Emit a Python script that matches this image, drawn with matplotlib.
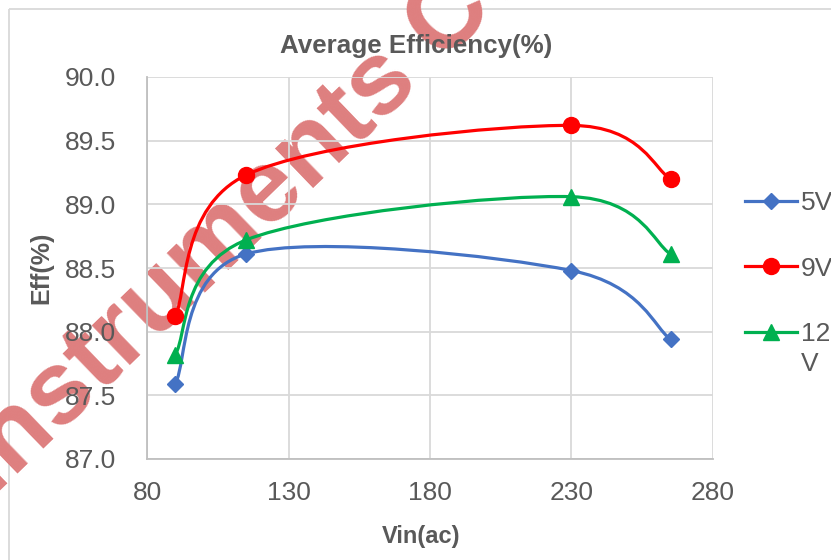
import matplotlib
matplotlib.use("Agg")
import matplotlib.pyplot as plt
import numpy as np
from matplotlib.path import Path
from matplotlib.patches import PathPatch, Rectangle
from matplotlib.lines import Line2D

plt.rcParams['font.family'] = ['Liberation Sans', 'DejaVu Sans']

# ---- data ----
vin = [90, 115, 230, 265]
eff_5v = [87.59, 88.61, 88.48, 87.94]
eff_9v = [88.12, 89.23, 89.62, 89.20]
eff_12v = [87.82, 88.72, 89.06, 88.61]
series_labels = ['5V', '9V', '12\nV']
x_ticks = [80, 130, 180, 230, 280]
y_ticks = [87.0, 87.5, 88.0, 88.5, 89.0, 89.5, 90.0]
title = 'Average Efficiency(%)'
x_label = 'Vin(ac)'
y_label = 'Eff(%)'
watermark = 'Instruments Co'

colors = ['#4472C4', '#FF0000', '#00B050']
markers = ['D', 'o', '^']
msizes = [7.8, 11.5, 11.0]
TXT = '#595959'
GRID = '#D9D9D9'

W, H = 831, 560
fig = plt.figure(figsize=(W / 100, H / 100), dpi=100)

# background layer: chart border + watermark
bg = fig.add_axes([0, 0, 1, 1], zorder=0)
bg.set_xlim(0, W); bg.set_ylim(H, 0); bg.axis('off')
bg.add_patch(Rectangle((9, 9), W + 20, H + 20, fill=False, edgecolor=GRID, lw=1.3))
bg.text(-8, 498, watermark, rotation=44, rotation_mode='anchor', ha='left', va='baseline',
        fontsize=75, fontweight='bold', color='#DE7F7F', clip_on=True)

ax = fig.add_axes([147 / W, 1 - 459 / H, (713 - 147) / W, (459 - 77) / H], zorder=1)
ax.patch.set_alpha(0)


def smooth_path(xs, ys):
    pts = np.column_stack([xs, ys]).astype(float)
    n = len(pts)
    verts = [pts[0]]
    codes = [Path.MOVETO]
    for i in range(n - 1):
        p0 = pts[i - 1] if i > 0 else pts[i]
        p1 = pts[i]
        p2 = pts[i + 1]
        p3 = pts[i + 2] if i + 2 < n else pts[i + 1]
        c1 = p1 + (p2 - p0) / 6.0
        c2 = p2 - (p3 - p1) / 6.0
        verts += [c1, c2, p2]
        codes += [Path.CURVE4] * 3
    return Path(verts, codes)


handles = []
for ys, c, m, ms, lab in zip([eff_5v, eff_9v, eff_12v], colors, markers, msizes, series_labels):
    ax.add_patch(PathPatch(smooth_path(vin, ys), fill=False, edgecolor=c, lw=2.3,
                           capstyle='round', joinstyle='round', zorder=2))
    ax.plot(vin, ys, ls='none', marker=m, ms=ms, color=c, zorder=3)
    handles.append(Line2D([], [], color=c, lw=2.3, marker=m, ms=ms, label=lab.split('\n')[0]))

ax.set_xlim(80, 280)
ax.set_ylim(87, 90)
ax.set_xticks(x_ticks)
ax.set_yticks(y_ticks)
ax.set_yticklabels([f'{v:.1f}' for v in y_ticks])
ax.grid(True, color=GRID, lw=1.3)
ax.set_axisbelow(True)
for s in ['top', 'right']:
    ax.spines[s].set_visible(False)
for s in ['left', 'bottom']:
    ax.spines[s].set_color('#BFBFBF')
    ax.spines[s].set_linewidth(1.3)
ax.tick_params(axis='both', length=0, labelsize=19, labelcolor=TXT)
ax.tick_params(axis='y', pad=22)
ax.tick_params(axis='x', pad=16)

fig.text(416 / W, 1 - 53 / H, title, ha='center', va='baseline', fontsize=18.7,
         fontweight='bold', color=TXT)
fig.text(421 / W, 1 - 543 / H, x_label, ha='center', va='baseline', fontsize=17,
         fontweight='bold', color=TXT)
fig.text(41 / W, 1 - 268 / H, y_label, ha='center', va='center', rotation=90, fontsize=18,
         fontweight='bold', color=TXT)

leg = fig.legend(handles=handles, loc='upper left', bbox_to_anchor=(745 / W, 1 - 191 / H),
                 frameon=False, fontsize=19, labelcolor=TXT, handlelength=1.97,
                 handletextpad=0.15, labelspacing=1.58, borderpad=0, borderaxespad=0)

# wrapped continuation lines of legend labels
fig.canvas.draw()
for txt, lab in zip(leg.get_texts(), series_labels):
    extra = lab.split('\n')[1:]
    if extra:
        bb = txt.get_window_extent()
        for k, line in enumerate(extra, start=1):
            fig.text(bb.x0 / W, (bb.y0 - 30 * k) / H, line, ha='left', va='bottom',
                     fontsize=19, color=TXT)

fig.savefig('out.png', dpi=100)
